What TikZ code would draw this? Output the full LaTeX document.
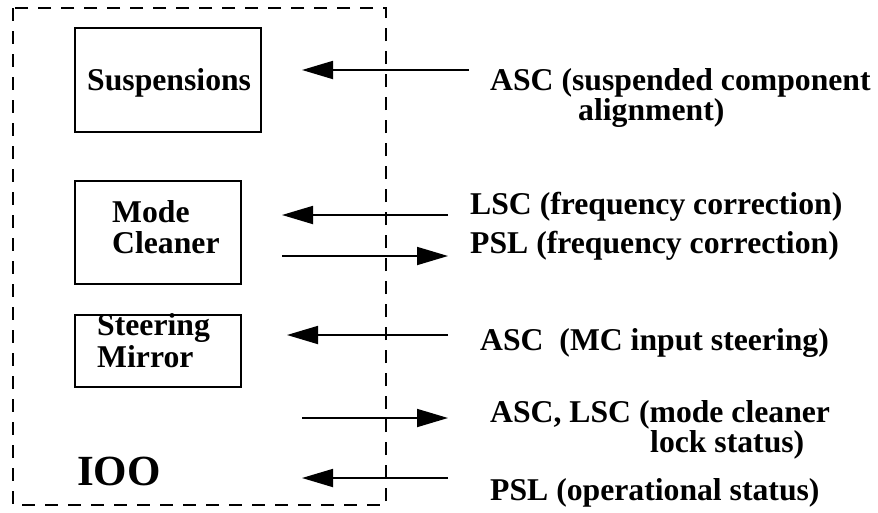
\documentclass[tikz,border=0pt]{standalone}
\usepackage{fontspec}
\setmainfont{Liberation Serif}[BoldFont={Liberation Serif Bold}]
\newfontfamily\tbold{Liberation Serif Bold}
\newcommand\tightlines{\lineskiplimit=-100pt\relax\lineskip=0pt\relax}
\usetikzlibrary{arrows.meta}
\tikzset{
  box/.style={draw, line width=1.8pt, inner sep=0pt},
  lab/.style={anchor=base west, inner sep=0pt, font=\tbold\fontsize{31.7}{34}\selectfont},
  twolab/.style={anchor=base west, inner sep=0pt, align=left,
    font=\tbold\fontsize{31.7}{#1}\selectfont\tightlines},
  arr/.style={line width=1.8pt, -{Triangle[length=31pt,width=18pt]}},
  frame/.style={draw, line width=1.8pt, dash pattern=on 13pt off 10pt}
}
\begin{document}
\begin{tikzpicture}[x=1pt,y=-1pt]
\useasboundingbox (0,0) rectangle (878,512);
% dashed IOO frame
\draw[frame] (13,8) rectangle (386,505);
% boxes
\node[box, minimum width=186pt, minimum height=104pt] (susp) at (168,80) {};
\node[box, minimum width=166pt, minimum height=103pt] (mc) at (158,232.5) {};
\node[box, minimum width=166pt, minimum height=72pt] (sm) at (158,351) {};
% box texts
\node[lab] (tsusp) at (87,90) {Suspensions};
\node[lab] (tmode) at (112,222) {Mode};
\node[lab] (tclean) at (112,253) {Cleaner};
\node[lab] (tsteer) at (97,335) {Steering};
\node[lab] (tmirr) at (97,367) {Mirror};
\node[anchor=base west, inner sep=0pt, font=\tbold\fontsize{43}{46}\selectfont] (ioo) at (77,485) {IOO};
% labels (two-line nodes: base anchor = last line's baseline)
\node[twolab={30}] (l1) at (490,120) {ASC (suspended component\\\hspace*{88pt}alignment)};
\node[lab] (l2) at (470,214) {LSC (frequency correction)};
\node[lab] (l3) at (470,253) {PSL (frequency correction)};
\node[lab] (l4) at (480,350) {ASC\ \ (MC input steering)};
\node[twolab={30}] (l5) at (490,452) {ASC, LSC (mode cleaner\\\hspace*{160pt}lock status)};
\node[lab] (l6) at (490,500) {PSL (operational status)};
% arrow end points
\coordinate (a1s) at (469,70);  \coordinate (a1e) at (302,70);
\coordinate (a2s) at (448,215); \coordinate (a2e) at (282,215);
\coordinate (a3s) at (282,256); \coordinate (a3e) at (448,256);
\coordinate (a4s) at (448,335); \coordinate (a4e) at (287,335);
\coordinate (a5s) at (302,418); \coordinate (a5e) at (448,418);
\coordinate (a6s) at (448,478); \coordinate (a6e) at (302,478);
\draw[arr] (a1s) -- (a1e);
\draw[arr] (a2s) -- (a2e);
\draw[arr] (a3s) -- (a3e);
\draw[arr] (a4s) -- (a4e);
\draw[arr] (a5s) -- (a5e);
\draw[arr] (a6s) -- (a6e);
\end{tikzpicture}
\end{document}
